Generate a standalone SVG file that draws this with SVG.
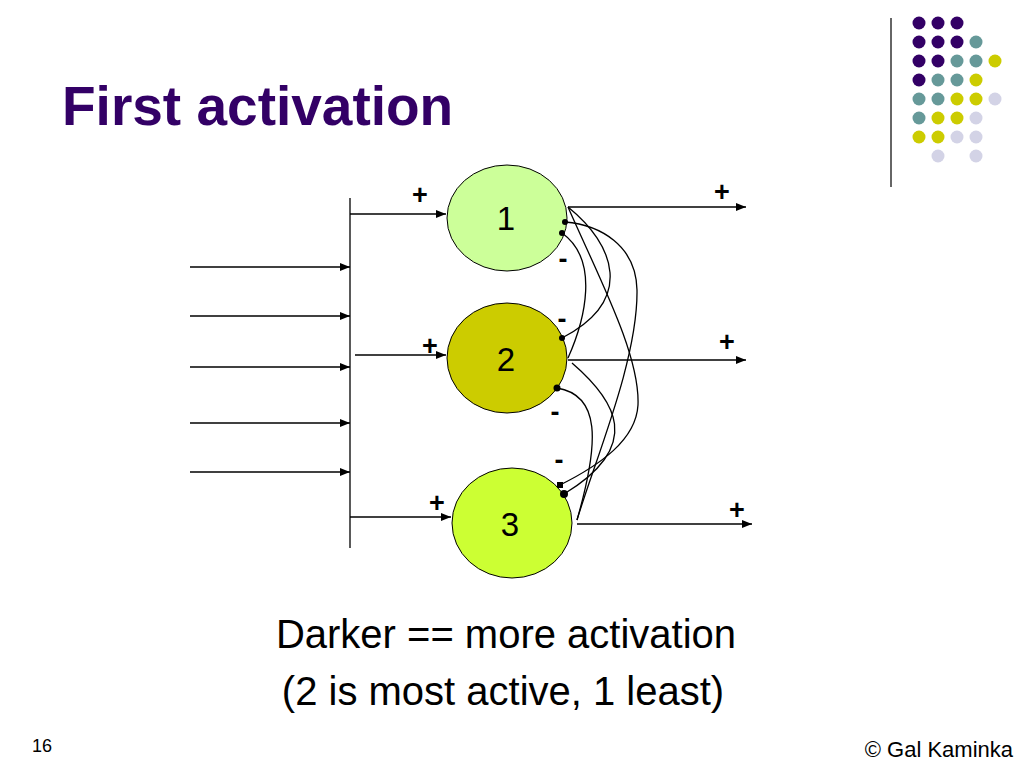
<svg xmlns="http://www.w3.org/2000/svg" width="1024" height="768" viewBox="0 0 1024 768">
<defs>
<marker id="arr" viewBox="0 0 10 8" refX="10" refY="4" markerWidth="10" markerHeight="8" markerUnits="userSpaceOnUse" orient="auto">
<path d="M0,0 L10,4 L0,8 z" fill="#000"/>
</marker>
<style>
.ln{stroke:#000;stroke-width:1.3;fill:none}
.ar{stroke:#000;stroke-width:1.3;fill:none;marker-end:url(#arr)}
.node{stroke:#000;stroke-width:1}
.lbl{font-family:"Liberation Sans",Arial,sans-serif;font-size:33px;text-anchor:middle;fill:#000}
.sg{font-family:"Liberation Sans",Arial,sans-serif;font-size:27px;font-weight:bold;text-anchor:middle;fill:#000}
.body{font-family:"Liberation Sans",Arial,sans-serif;font-size:40px;text-anchor:middle;fill:#000}
.pu{fill:#330066}.te{fill:#669999}.ye{fill:#cccc00}.la{fill:#d3d3e6}
</style>
</defs>
<rect width="1024" height="768" fill="#fff"/>
<g id="decoration">
<line x1="891" y1="18" x2="891" y2="187" stroke="#333" stroke-width="1.5"/>
<circle class="pu" cx="919" cy="23" r="6.5"/><circle class="pu" cx="938" cy="23" r="6.5"/><circle class="pu" cx="957" cy="23" r="6.5"/>
<circle class="pu" cx="919" cy="42" r="6.5"/><circle class="pu" cx="938" cy="42" r="6.5"/><circle class="pu" cx="957" cy="42" r="6.5"/><circle class="te" cx="976" cy="42" r="6.5"/>
<circle class="pu" cx="919" cy="61" r="6.5"/><circle class="pu" cx="938" cy="61" r="6.5"/><circle class="te" cx="957" cy="61" r="6.5"/><circle class="te" cx="976" cy="61" r="6.5"/><circle class="ye" cx="995" cy="61" r="6.5"/>
<circle class="pu" cx="919" cy="80" r="6.5"/><circle class="te" cx="938" cy="80" r="6.5"/><circle class="te" cx="957" cy="80" r="6.5"/><circle class="ye" cx="976" cy="80" r="6.5"/>
<circle class="te" cx="919" cy="99" r="6.5"/><circle class="te" cx="938" cy="99" r="6.5"/><circle class="ye" cx="957" cy="99" r="6.5"/><circle class="ye" cx="976" cy="99" r="6.5"/><circle class="la" cx="995" cy="99" r="6.5"/>
<circle class="te" cx="919" cy="118" r="6.5"/><circle class="ye" cx="938" cy="118" r="6.5"/><circle class="ye" cx="957" cy="118" r="6.5"/><circle class="la" cx="976" cy="118" r="6.5"/>
<circle class="ye" cx="919" cy="137" r="6.5"/><circle class="ye" cx="938" cy="137" r="6.5"/><circle class="la" cx="957" cy="137" r="6.5"/><circle class="la" cx="976" cy="137" r="6.5"/>
<circle class="la" cx="938" cy="156" r="6.5"/><circle class="la" cx="976" cy="156" r="6.5"/>
</g>
<text x="62" y="125" font-family="'Liberation Sans',Arial,sans-serif" font-size="55" font-weight="bold" fill="#330066">First activation</text>
<g id="node1">
<ellipse class="node" cx="507" cy="218" rx="60" ry="53" fill="#ccff99"/>
<text class="lbl" x="506" y="230">1</text>
</g>
<g id="node2">
<ellipse class="node" cx="507" cy="358" rx="60" ry="55" fill="#cccc00"/>
<text class="lbl" x="506" y="371">2</text>
</g>
<g id="node3">
<ellipse class="node" cx="512" cy="523" rx="60" ry="55" fill="#ccff33"/>
<text class="lbl" x="510" y="536">3</text>
</g>
<g id="connectors">
<line class="ln" x1="350" y1="198" x2="350" y2="548"/>
<line class="ar" x1="190" y1="267" x2="350" y2="267"/>
<line class="ar" x1="190" y1="316" x2="350" y2="316"/>
<line class="ar" x1="190" y1="367" x2="350" y2="367"/>
<line class="ar" x1="190" y1="423" x2="350" y2="423"/>
<line class="ar" x1="190" y1="472" x2="350" y2="472"/>
<line class="ar" x1="350" y1="214" x2="446" y2="214"/>
<line class="ar" x1="355" y1="355" x2="446" y2="355"/>
<line class="ar" x1="350" y1="517" x2="451" y2="517"/>
<line class="ar" x1="568" y1="207" x2="746" y2="207"/>
<line class="ar" x1="568" y1="360" x2="746" y2="360"/>
<line class="ar" x1="577" y1="524" x2="752" y2="524"/>
<path class="ln" d="M568,207 C615,245 635,300 562,338"/>
<path class="ln" d="M568,207 C600,280 640,355 638,405 C636,440 600,465 560,485"/>
<path class="ln" d="M568,358 C585,320 600,260 562,233"/>
<path class="ln" d="M572,363 C615,400 645,445 564,494"/>
<path class="ln" d="M577,520 C595,460 638,360 637,290 C636,245 600,225 565,222"/>
<path class="ln" d="M557,388 C600,395 600,440 577,520"/>
<circle cx="565" cy="222" r="3"/>
<circle cx="562" cy="233" r="3"/>
<circle cx="562" cy="338" r="3"/>
<circle cx="557" cy="388" r="3.5"/>
<rect x="557" y="482" width="6" height="6"/>
<circle cx="564" cy="494" r="4"/>
</g>
<g id="signs">
<text class="sg" x="420" y="204">+</text>
<text class="sg" x="430" y="355">+</text>
<text class="sg" x="437" y="512">+</text>
<text class="sg" x="722" y="201">+</text>
<text class="sg" x="727" y="351">+</text>
<text class="sg" x="737" y="519">+</text>
<text class="sg" x="563" y="268">-</text>
<text class="sg" x="562" y="328">-</text>
<text class="sg" x="555" y="421">-</text>
<text class="sg" x="559" y="469">-</text>
</g>
<text class="body" x="506" y="648">Darker == more activation</text>
<text class="body" x="503" y="705">(2 is most active, 1 least)</text>
<text x="32" y="752" font-family="'Liberation Sans',Arial,sans-serif" font-size="18" fill="#000">16</text>
<text x="1013" y="757" font-family="'Liberation Sans',Arial,sans-serif" font-size="22" text-anchor="end" fill="#000">© Gal Kaminka</text>
</svg>
